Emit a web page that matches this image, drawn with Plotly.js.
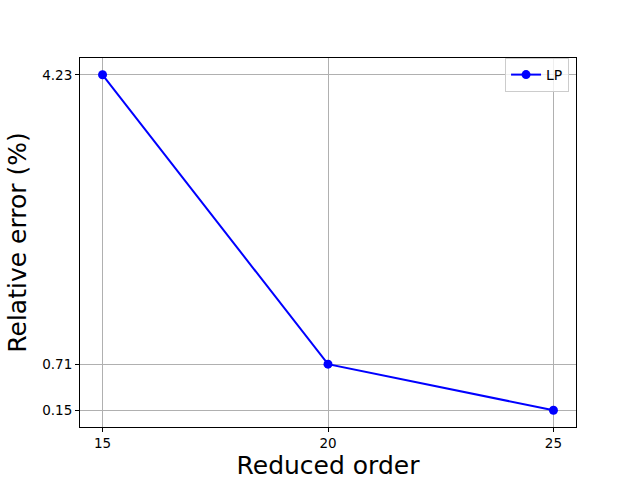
<!DOCTYPE html>
<html>
<head>
<meta charset="utf-8">
<script src="https://cdn.plot.ly/plotly-3.0.1.min.js"></script>
<style>html,body{margin:0;padding:0;background:#fff}#chart{width:640px;height:480px}</style>
</head>
<body>
<div id="chart"></div>
<script>
const reducedOrder = [15, 20, 25];
const relativeError = [4.23, 0.71, 0.15];
const xTicks = [15, 20, 25];
const yTicks = [0.15, 0.71, 4.23];
const yTickLabels = ['0.15', '0.71', '4.23'];

const trace = {
  x: reducedOrder,
  y: relativeError,
  type: 'scatter',
  mode: 'lines+markers',
  name: 'LP',
  line: {color: '#0000ff', width: 2},
  marker: {color: '#0000ff', size: 9}
};

const axisCommon = {
  showline: true, mirror: true, linecolor: '#000', linewidth: 1,
  ticks: 'outside', ticklen: 4, tickwidth: 1, tickcolor: '#000',
  showgrid: true, gridcolor: '#b0b0b0', gridwidth: 1,
  zeroline: false,
  tickfont: {family: 'DejaVu Sans', size: 13.5, color: '#000'}
};

const layout = {
  width: 640, height: 480,
  paper_bgcolor: '#fff', plot_bgcolor: '#fff',
  margin: {l: 80, r: 64, t: 58, b: 53},
  showlegend: true,
  legend: {
    x: 0.986, y: 1.0, xanchor: 'right', yanchor: 'top',
    bordercolor: '#cccccc', borderwidth: 1, bgcolor: 'rgba(255,255,255,0.8)',
    font: {family: 'DejaVu Sans', size: 14, color: '#000'}
  },
  xaxis: Object.assign({}, axisCommon, {
    range: [14.5, 25.5],
    tickvals: xTicks,
    ticktext: xTicks.map(String),
    title: {text: 'Reduced order', font: {family: 'DejaVu Sans', size: 25, color: '#000'}, standoff: 8}
  }),
  yaxis: Object.assign({}, axisCommon, {
    range: [-0.054, 4.434],
    tickvals: yTicks,
    ticktext: yTickLabels,
    title: {text: 'Relative error (%)', font: {family: 'DejaVu Sans', size: 25, color: '#000'}, standoff: 8}
  })
};

Plotly.newPlot('chart', [trace], layout, {displayModeBar: false, staticPlot: true});
</script>
</body>
</html>
